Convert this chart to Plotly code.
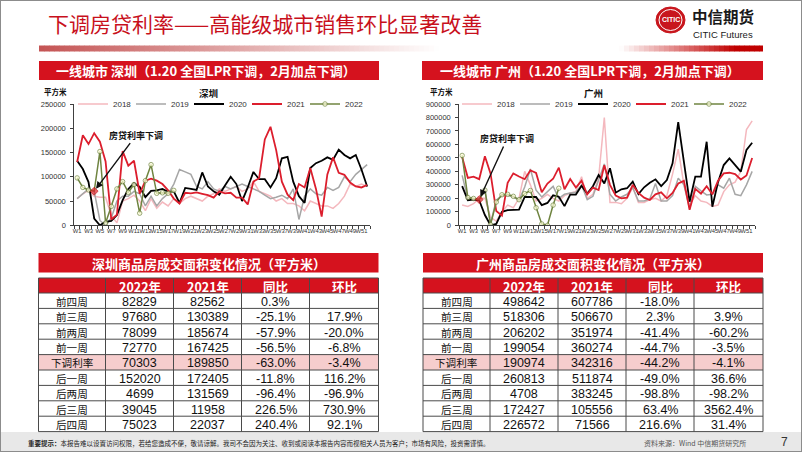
import plotly.graph_objects as go

W, H = 802, 452
def px(x): return x / W
def py(y): return 1 - y / H

# ---------------- data ----------------
weeks = [f"W{i}" for i in range(1, 53)]
tick_text = [w if i % 2 == 0 else "" for i, w in enumerate(weeks)]
years = ["2018", "2019", "2020", "2021", "2022"]
cut_week = "W4"

sz_2018 = [55000, 65000, 72000, 60000, 58000, 58000, 20000, 5000, 50000, 55000, 62000, 50000, 30000,
           55000, 35000, 48000, 40000, 55000, 45000, 55000, 60000, 55000, 50000, 60000, 65000, 75000,
           70000, 75000, 80000, 70000, 75000, 90000, 70000, 65000, 60000, 50000, 55000, 45000, 45000,
           40000, 30000, 50000, 45000, 40000, 40000, 35000, 45000, 60000, 85000, 80000, 85000, 80000]
sz_2019 = [55000, 65000, 75000, 70000, 10000, 0, 15000, 50000, 60000, 60000, 70000, 65000, 40000,
           60000, 40000, 55000, 65000, 85000, 115000, 110000, 105000, 80000, 75000, 90000, 75000, 70000,
           80000, 75000, 80000, 85000, 80000, 75000, 70000, 62000, 55000, 58000, 62000, 55000, 75000,
           12000, 60000, 75000, 65000, 62000, 78000, 72000, 78000, 100000, 90000, 105000, 115000, 125000]
sz_2020 = [133000, 116000, 89000, 14000, 0, 7000, 9000, 21000, 52000, 75000, 87000, 79000, 58000,
           71000, 72000, 75000, 69000, 70000, 46000, 77000, 75000, 73000, 109000, 80000, 70000, 63000,
           82000, 100000, 85000, 50000, 78000, 110000, 95000, 95000, 78000, 97000, 138000, 141000, 90000,
           60000, 46000, 118000, 128000, 133000, 140000, 135000, 156000, 145000, 138000, 145000, 115000, 80000]
sz_2021 = [130389, 185674, 167425, 189850, 172405, 131569, 11958, 22037, 153000, 123000, 133000, 65000, 92000,
           96000, 92000, 85000, 72000, 55000, 45000, 67000, 66000, 68000, 65000, 62000, 57000, 70000,
           66000, 67000, 57000, 57000, 43000, 90000, 97000, 177000, 203000, 155000, 90000, 63000, 52000,
           85000, 78000, 118000, 75000, 18000, 105000, 140000, 108000, 104000, 88000, 80000, 78000, 83000]
sz_2022 = [97680, 78099, 72770, 70303, 152020, 4699, 39045, 75023, 90000, 68000, 84000, 25000, 92000,
           125000, 66000, 67000, 66000, 72000]

gz_2018 = [150000, 140000, 160000, 200000, 200000, 60000, 30000, 100000, 150000, 130000, 200000, 400000, 300000,
           180000, 200000, 230000, 200000, 180000, 220000, 240000, 250000, 360000, 200000, 230000, 350000, 800000,
           170000, 170000, 160000, 200000, 280000, 170000, 170000, 190000, 200000, 180000, 220000, 380000, 565000,
           300000, 150000, 220000, 180000, 170000, 140000, 150000, 250000, 300000, 320000, 400000, 710000, 775000]
gz_2019 = [370000, 198000, 198000, 193000, 264000, 15000, 186000, 222000, 222000, 210000, 186000, 284000, 418000,
           260000, 210000, 247000, 289000, 200000, 230000, 240000, 245000, 300000, 190000, 215000, 330000, 455000,
           230000, 180000, 210000, 230000, 280000, 180000, 180000, 195000, 310000, 180000, 180000, 220000, 350000,
           300000, 125000, 290000, 255000, 225000, 230000, 300000, 275000, 350000, 230000, 220000, 300000, 400000]
gz_2020 = [290000, 186000, 190000, 186000, 76000, 0, 10000, 100000, 112000, 112000, 117000, 210000, 212000,
           210000, 150000, 166000, 222000, 212000, 142000, 227000, 228000, 293000, 235000, 290000, 373000, 311000,
           423000, 242000, 267000, 275000, 324000, 232000, 282000, 316000, 341000, 291000, 336000, 460000, 765000,
           470000, 175000, 361000, 361000, 620000, 138000, 320000, 447000, 497000, 447000, 398000, 559000, 613000]
gz_2021 = [506670, 351974, 360274, 342316, 511874, 383245, 105556, 71566, 315000, 385000, 362000, 342000, 408000,
           388000, 245000, 310000, 345000, 428000, 267000, 343000, 280000, 330000, 230000, 280000, 262000, 445000,
           300000, 220000, 200000, 205000, 300000, 240000, 205000, 188000, 230000, 245000, 200000, 240000, 310000,
           330000, 115000, 270000, 235000, 290000, 230000, 330000, 385000, 390000, 380000, 340000, 370000, 500000]
gz_2022 = [518306, 206202, 199054, 190974, 260813, 4708, 172427, 226572, 230000, 215000, 190000, 235000, 258000,
           130000, 10000, 0, 150000, 275000]

row_labels = ["前四周", "前三周", "前两周", "前一周", "下调利率", "后一周", "后两周", "后三周", "后四周"]
table_header = ["", "2022年", "2021年", "同比", "环比"]
sz_t2022 = [82829, 97680, 78099, 72770, 70303, 152020, 4699, 39045, 75023]
sz_t2021 = [82562, 130389, 185674, 167425, 189850, 172405, 131569, 11958, 22037]
sz_yoy = [0.3, -25.1, -57.9, -56.5, -63.0, -11.8, -96.4, 226.5, 240.4]
sz_wow = [None, 17.9, -20.0, -6.8, -3.4, 116.2, -96.9, 730.9, 92.1]
gz_t2022 = [498642, 518306, 206202, 199054, 190974, 260813, 4708, 172427, 226572]
gz_t2021 = [607786, 506670, 351974, 360274, 342316, 511874, 383245, 105556, 71566]
gz_yoy = [-18.0, 2.3, -41.4, -44.7, -44.2, -49.0, -98.8, 63.4, 216.6]
gz_wow = [None, 3.9, -60.2, -3.5, -4.1, 36.6, -98.2, 3562.4, 31.4]

# ---------------- styles ----------------
RED = "#D5121E"
CJK = "Noto Sans CJK SC, Liberation Sans, sans-serif"
NUMF = "Liberation Sans Narrow, Liberation Sans, Noto Sans CJK SC, sans-serif"
line_colors = {"2018": "#F4B8BE", "2019": "#A6A6A6", "2020": "#000000", "2021": "#DC1E2D", "2022": "#6F8440"}
line_widths = {"2018": 1.5, "2019": 1.5, "2020": 1.8, "2021": 1.8, "2022": 1.5}

fig = go.Figure()
shapes = []
annos = []

def txt(x, y, text, size, color="#111111", xa="center", ya="middle", family=CJK):
    annos.append(dict(x=px(x), y=py(y), xref="paper", yref="paper", xanchor=xa, yanchor=ya,
                      text=text, showarrow=False, font=dict(size=size, color=color, family=family)))

def rect(x0, x1, y0, y1, fill, lw=0, lc=None, layer="above"):
    shapes.append(dict(type="rect", xref="paper", yref="paper", x0=px(x0), x1=px(x1), y0=py(y1), y1=py(y0),
                       fillcolor=fill, line=dict(width=lw, color=lc or fill), layer=layer))

def seg(x0, y0, x1, y1, color, w=1):
    shapes.append(dict(type="line", xref="paper", yref="paper", x0=px(x0), x1=px(x1), y0=py(y0), y1=py(y1),
                       line=dict(color=color, width=w)))

# ---------------- line charts ----------------
def add_city(series, xa, ya, lg):
    ci = weeks.index(cut_week)
    for yr, vals in zip(years, series):
        n = len(vals)
        kw = {}
        if yr == "2022":
            kw["mode"] = "lines+markers"
            kw["marker"] = dict(
                size=[6 if i == ci else 4.5 for i in range(n)],
                symbol=["diamond" if i == ci else "circle" for i in range(n)],
                color=["#E0202A" if i == ci else "#FFFFD8" for i in range(n)],
                line=dict(color=["#C00000" if i == ci else line_colors[yr] for i in range(n)], width=1))
        else:
            kw["mode"] = "lines"
        fig.add_trace(go.Scatter(x=weeks[:n], y=vals, name=yr, xaxis=xa, yaxis=ya, legend=lg,
                                 line=dict(color=line_colors[yr], width=line_widths[yr]),
                                 hoverinfo="skip", **kw))

add_city([sz_2018, sz_2019, sz_2020, sz_2021, sz_2022], "x", "y", "legend")
add_city([gz_2018, gz_2019, gz_2020, gz_2021, gz_2022], "x2", "y2", "legend2")

ydom = [py(225.3), py(104)]
def xax(x0, x1, anchor):
    return dict(domain=[px(x0), px(x1)], anchor=anchor, type="category", categoryarray=weeks,
                categoryorder="array", range=[-0.5, len(weeks) - 0.5], tickmode="array",
                tickvals=weeks, ticktext=tick_text, tickson="boundaries", ticks="outside", ticklen=3,
                tickcolor="#404040", showline=True, linecolor="#404040", linewidth=1, showgrid=False,
                zeroline=False, tickangle=0, automargin=False,
                tickfont=dict(size=5.8, color="#333333", family="Liberation Sans Narrow, Liberation Sans"))
def yax(maxv, dt, anchor):
    return dict(domain=ydom, anchor=anchor, range=[0, maxv], dtick=dt, tickformat="d", ticks="outside",
                ticklen=3, tickcolor="#404040", showline=True, linecolor="#404040", linewidth=1,
                showgrid=False, zeroline=False, automargin=False, ticklabelstandoff=3,
                tickfont=dict(size=7.5, color="#333333", family="Liberation Sans"))

legend_common = dict(orientation="h", xanchor="left", yanchor="middle", y=py(104),
                     font=dict(size=8, color="#333333", family="Liberation Sans"),
                     bgcolor="rgba(0,0,0,0)", entrywidth=13, entrywidthmode="pixels",
                     itemwidth=30, tracegroupgap=0)

# ---------------- decorations ----------------
rect(0, W, 432, H, "#E8E8E8", layer="below")

def grad(x):
    if x <= 440:
        t = (x - 39) / (440 - 39)
        c0 = (196, 84, 84)
        return tuple(round(c + (255 - c) * t) for c in c0)
    if x < 620:
        return (255, 255, 255)
    t = min(1.0, (x - 620) / (735 - 620))
    c1 = (192, 0, 0)
    return tuple(round(255 + (c - 255) * t) for c in c1)

step = 5
for x in range(39, 763, step):
    r, g, b = grad(x + step / 2)
    rect(x, min(x + step + 0.5, 763), 45.5, 51.5, f"rgb({r},{g},{b})")

txt(46, 23, "下调房贷利率——高能级城市销售环比显著改善", 21, "#C8101C", xa="left")

# logo
shapes.append(dict(type="circle", xref="paper", yref="paper", x0=px(656), x1=px(685), y0=py(33), y1=py(7),
                   fillcolor="#C8161D", line=dict(color="#C8161D", width=1)))
shapes.append(dict(type="circle", xref="paper", yref="paper", x0=px(659), x1=px(682), y0=py(30.5), y1=py(9.5),
                   fillcolor="rgba(0,0,0,0)", line=dict(color="white", width=1)))
txt(670.5, 20, "<b>CITIC</b>", 7, "white", family="Liberation Sans Narrow, Liberation Sans")
txt(690, 16.5, "<b>中信期货</b>", 15.5, "#1A1A1A", xa="left")
txt(691, 34, "CITIC Futures", 9.5, "#1A1A1A", xa="left", family="Liberation Sans Narrow, Liberation Sans")

# chart header bars
for (x0, x1, city) in [(39, 379, "深圳"), (422, 763, "广州")]:
    rect(x0, x1, 61, 80, RED)
    txt((x0 + x1) / 2 - 3, 70.5, f"<b>一线城市 {city}（1.20 全国LPR下调，2月加点下调）</b>", 13, "white")

for (cx, ux, city) in [(208, 56, "深圳"), (593, 441, "广州")]:
    txt(cx, 93, f"<b>{city}</b>", 9.5)
    txt(ux, 92, "<b>平方米</b>", 7.5)

ci = weeks.index(cut_week)
annos.append(dict(x=ci, y=sz_2022[ci], xref="x", yref="y", text="<b>房贷利率下调</b>", showarrow=True,
                  arrowhead=2, arrowsize=1, arrowwidth=1.4, arrowcolor="#111111", ax=42, ay=-56, standoff=3,
                  xanchor="center", yanchor="middle", font=dict(size=9, color="#111111", family=CJK)))
annos.append(dict(x=ci, y=gz_2022[ci], xref="x2", yref="y2", text="<b>房贷利率下调</b>", showarrow=True,
                  arrowhead=2, arrowsize=1, arrowwidth=1.4, arrowcolor="#111111", ax=28, ay=-61, standoff=3,
                  xanchor="center", yanchor="middle", font=dict(size=9, color="#111111", family=CJK)))

# ---------------- tables ----------------
def fmt_pct(v):
    return "" if v is None else f"{v:.1f}%"

col_w = [67, 68, 68, 68, 69]
HDR_TOP, HDR_H, ROW_H = 278, 15, 15.4

def add_table(x0, city, v22, v21, yoy, wow):
    x1 = x0 + sum(col_w)
    rect(x0, x1, 253, 272.5, RED)
    txt((x0 + x1) / 2, 263, f"<b>{city}商品房成交面积变化情况（平方米）</b>", 13, "white")
    rect(x0, x1, HDR_TOP, HDR_TOP + HDR_H, RED)
    body_top = HDR_TOP + HDR_H
    bottom = body_top + ROW_H * len(row_labels)
    cols = [row_labels, [str(v) for v in v22], [str(v) for v in v21],
            [fmt_pct(v) for v in yoy], [fmt_pct(v) for v in wow]]
    for r, lab in enumerate(row_labels):
        if lab == "下调利率":
            rect(x0, x1, body_top + r * ROW_H, body_top + (r + 1) * ROW_H, "#F6CDCD")
    edges = [x0]
    for w in col_w:
        edges.append(edges[-1] + w)
    for xe in edges:
        seg(xe, HDR_TOP, xe, bottom, "#4A4A4A", 1)
    seg(x0, HDR_TOP, x1, HDR_TOP, "#4A4A4A", 1)
    for r in range(len(row_labels) + 1):
        yy = body_top + r * ROW_H
        seg(x0, yy, x1, yy, "#4A4A4A", 1)
    for c, h in enumerate(table_header):
        if h:
            txt((edges[c] + edges[c + 1]) / 2, HDR_TOP + HDR_H / 2 + 0.5, f"<b>{h}</b>", 12.5, "white")
    for c, col in enumerate(cols):
        for r, v in enumerate(col):
            if v:
                if c == 0:
                    txt((edges[c] + edges[c + 1]) / 2, body_top + (r + 0.5) * ROW_H + 0.5, v, 10.6,
                        "#111111", family=CJK)
                else:
                    txt((edges[c] + edges[c + 1]) / 2, body_top + (r + 0.5) * ROW_H + 1, v, 12.5,
                        "#111111", family=NUMF)

add_table(38.5, "深圳", sz_t2022, sz_t2021, sz_yoy, sz_wow)
add_table(423, "广州", gz_t2022, gz_t2021, gz_yoy, gz_wow)

txt(26, 443, "<b>重要提示：</b>本报告难以设置访问权限，若给您造成不便，敬请谅解。我司不会因为关注、收到或阅读本报告内容而视相关人员为客户；市场有风险，投资需谨慎。",
    6.5, "#222222", xa="left")
txt(748, 443, "资料来源：Wind 中信期货研究所", 7, "#555555", xa="right")
txt(784, 442, "7", 12, "#333333", family="Liberation Sans")

shapes.append(dict(type="rect", xref="paper", yref="paper", x0=0, x1=1, y0=0, y1=1,
                   line=dict(color="#8C8C8C", width=2), layer="above"))

fig.update_layout(
    width=W, height=H, margin=dict(l=0, r=0, t=0, b=0), template="none",
    paper_bgcolor="white", plot_bgcolor="rgba(0,0,0,0)", showlegend=True,
    xaxis=xax(74.3, 370, "y"), yaxis=yax(250000, 50000, "x"),
    xaxis2=xax(459.3, 755, "y2"), yaxis2=yax(900000, 100000, "x2"),
    legend=dict(x=px(73), **legend_common),
    legend2=dict(x=px(457), **legend_common),
    shapes=shapes, annotations=annos,
)
fig.write_html("out.html", config={"displayModeBar": False},
               post_script="document.body.style.margin='0';document.body.style.overflow='hidden';")
